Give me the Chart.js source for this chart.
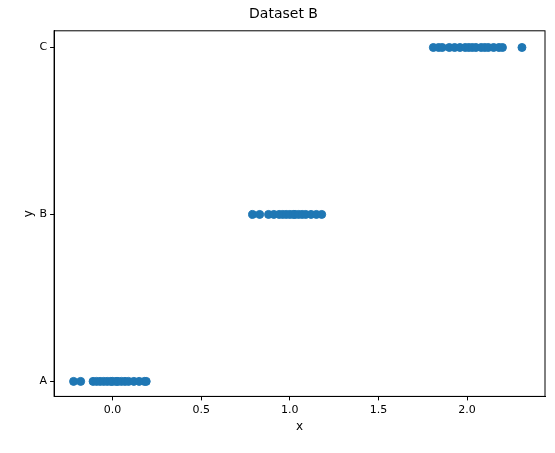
<!DOCTYPE html>
<html><head><script src="https://cdn.jsdelivr.net/npm/chart.js@4"></script>
<style>body{margin:0;background:#fff}#w{width:555px;height:453px}</style></head>
<body><div id="w"><canvas id="c"></canvas></div>
<script>
const categories=["A","B","C"];
const xA=[-0.22,-0.18,-0.11,-0.09,-0.07,-0.05,-0.03,-0.01,0.0,0.02,0.03,0.05,0.07,0.09,0.12,0.15,0.18,0.19];
const xB=[0.79,0.83,0.88,0.91,0.94,0.96,0.98,1.0,1.02,1.03,1.05,1.07,1.09,1.12,1.15,1.18];
const xC=[1.81,1.84,1.86,1.9,1.93,1.96,1.99,2.01,2.03,2.05,2.08,2.1,2.12,2.15,2.18,2.2,2.31];
const xTicks=[0,0.5,1,1.5,2];
const pts=[];
[xA,xB,xC].forEach((arr,i)=>arr.forEach(x=>pts.push({x:x,y:i})));
Chart.defaults.font.family="DejaVu Sans";Chart.defaults.color="#000";
const box={id:'box',afterDraw(ch){const a=ch.chartArea,c=ch.ctx;c.save();c.strokeStyle='#000';c.lineWidth=1;c.strokeRect(a.left,a.top,a.right-a.left,a.bottom-a.top);c.restore();}};
const g={drawOnChartArea:false,color:'#000',tickLength:4};
new Chart(document.getElementById('c'),{type:'scatter',plugins:[box],
data:{datasets:[{data:pts,backgroundColor:'#1f77b4',borderColor:'#1f77b4',pointRadius:4,pointHoverRadius:4}]},
options:{responsive:true,maintainAspectRatio:false,animation:false,
layout:{padding:{left:22,right:10,top:0,bottom:19}},
plugins:{legend:{display:false},tooltip:{enabled:false},title:{display:true,text:'Dataset B',font:{size:14,weight:'normal'},padding:{top:6,bottom:8}}},
scales:{
x:{min:-0.33,max:2.44,border:{color:'#000'},grid:g,
afterBuildTicks:a=>{a.ticks=xTicks.map(v=>({value:v}))},
ticks:{font:{size:11},callback:v=>v.toFixed(1),maxRotation:0},
title:{display:true,text:'x',font:{size:12},padding:0}},
y:{min:-0.09,max:2.1,border:{color:'#000'},grid:g,
afterBuildTicks:a=>{a.ticks=categories.map((c,i)=>({value:i}))},
ticks:{font:{size:11},callback:v=>categories[v]},
title:{display:true,text:'y',font:{size:12},padding:0}}}}});
</script></body></html>
